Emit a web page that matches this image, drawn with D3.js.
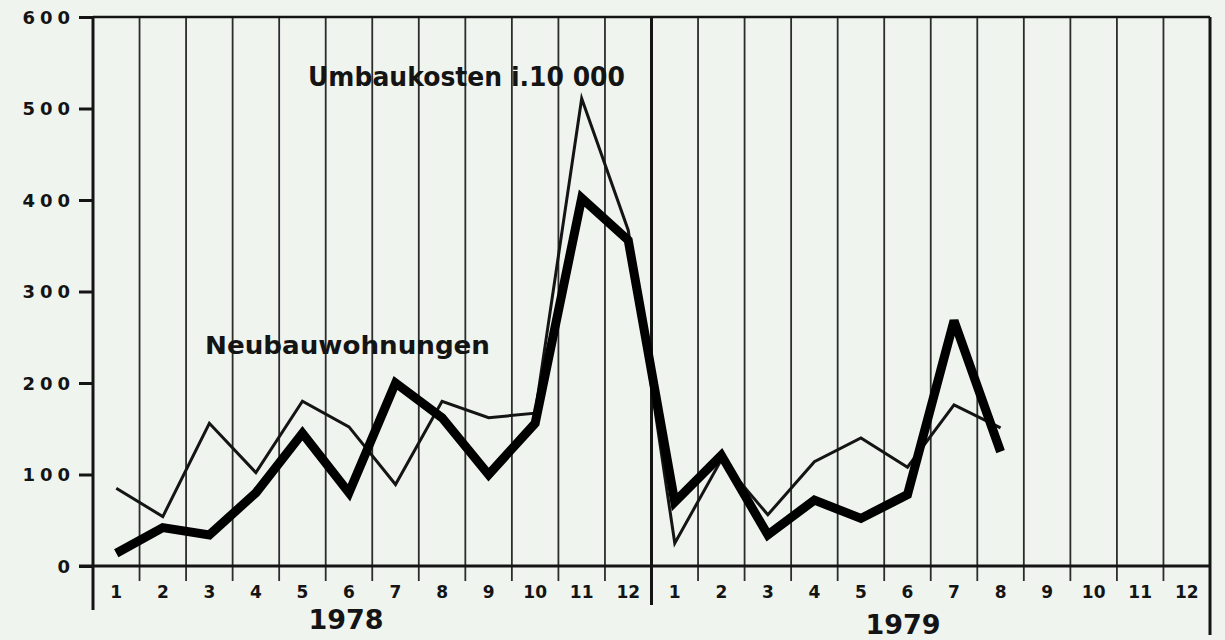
<!DOCTYPE html>
<html>
<head>
<meta charset="utf-8">
<script src="https://cdn.jsdelivr.net/npm/d3@7"></script>
<style>
  html, body { margin: 0; padding: 0; background: #eff4ef; }
  svg { display: block; }
  text { font-family: "DejaVu Sans", sans-serif; fill: #141414; }
</style>
</head>
<body>
<svg id="chart" width="1225" height="640"></svg>
<script>
// ---- data ----
const years = ["1978", "1979"];
const months = ["1","2","3","4","5","6","7","8","9","10","11","12"];
const yTicks = [0, 100, 200, 300, 400, 500, 600];
// Neubauwohnungen (thick line), Jan 1978 – Aug 1979
const neubau1978 = [14, 42, 34, 80, 145, 80, 200, 162, 100, 156, 402, 356];
const neubau1979 = [70, 121, 34, 72, 52, 78, 268, 125];
// Umbaukosten i. 10 000 (thin line), Jan 1978 – Aug 1979
const umbau1978 = [85, 54, 156, 102, 180, 152, 89, 180, 162, 167, 511, 367];
const umbau1979 = [25, 116, 56, 114, 140, 108, 176, 151];
const labelUmbau = "Umbaukosten i.10 000";
const labelNeubau = "Neubauwohnungen";

// ---- layout ----
const svg = d3.select("#chart");
const pLeft = 93, pRight = 1210, pTop = 17, pBase = 566;
const nMonths = years.length * months.length;
const x = d3.scaleLinear().domain([0, nMonths]).range([pLeft, pRight]);
const y = d3.scaleLinear().domain([0, 600]).range([pBase, pTop]);
const ink = "#141414";

// vertical month grid lines (month boundaries)
const g = svg.append("g");
d3.range(1, nMonths).forEach(i => {
  const isYear = i % 12 === 0;
  g.append("line")
    .attr("x1", x(i)).attr("x2", x(i))
    .attr("y1", pTop).attr("y2", isYear ? 605 : pBase + 15)
    .attr("stroke", isYear ? ink : "#2c2c2c")
    .attr("stroke-width", isYear ? 3 : 1.8);
});

// right border
g.append("line").attr("x1", pRight).attr("x2", pRight)
  .attr("y1", pTop).attr("y2", 635).attr("stroke", ink).attr("stroke-width", 3);
// top border
g.append("line").attr("x1", pLeft).attr("x2", pRight)
  .attr("y1", pTop).attr("y2", pTop).attr("stroke", ink).attr("stroke-width", 2.5);

// y axis
const yAxis = d3.axisLeft(y).tickValues(yTicks).tickSize(14).tickPadding(4)
  .tickFormat(d => d3.format("d")(d));
const ya = svg.append("g").attr("transform", `translate(${pLeft},0)`).call(yAxis);
ya.select(".domain").remove();
ya.selectAll(".tick line").attr("stroke", ink).attr("stroke-width", 3);
ya.selectAll(".tick text")
  .attr("font-size", 18).attr("font-weight", "bold").attr("letter-spacing", 5)
  .attr("fill", ink).attr("dy", "0.36em");
svg.append("line").attr("x1", pLeft).attr("x2", pLeft)
  .attr("y1", pTop).attr("y2", 610).attr("stroke", ink).attr("stroke-width", 3);

// x axis baseline
svg.append("line").attr("x1", pLeft - 14).attr("x2", pRight)
  .attr("y1", pBase).attr("y2", pBase).attr("stroke", ink).attr("stroke-width", 3);

// month labels
const monthLabels = [];
years.forEach((yr, yi) => months.forEach((m, mi) => monthLabels.push({ m, i: yi * 12 + mi })));
svg.append("g").selectAll("text").data(monthLabels).join("text")
  .attr("x", d => x(d.i + 0.5)).attr("y", 598)
  .attr("text-anchor", "middle").attr("font-size", 17).attr("font-weight", "bold")
  .text(d => d.m);

// year labels
svg.append("g").selectAll("text").data(years).join("text")
  .attr("x", (d, i) => i === 0 ? 346 : 903)
  .attr("y", (d, i) => i === 0 ? 629 : 634)
  .attr("text-anchor", "middle").attr("font-size", 27).attr("font-weight", "bold")
  .text(d => d);

// series
const thin = umbau1978.concat(umbau1979).map((v, i) => [i, v]);
const thick = neubau1978.concat(neubau1979).map((v, i) => [i, v]);
const line = d3.line().x(d => x(d[0] + 0.5)).y(d => y(d[1]));

svg.append("path").datum(thin).attr("d", line)
  .attr("fill", "none").attr("stroke", ink).attr("stroke-width", 3)
  .attr("stroke-linejoin", "miter").attr("stroke-miterlimit", 6);
svg.append("path").datum(thick).attr("d", line)
  .attr("fill", "none").attr("stroke", "#000").attr("stroke-width", 9)
  .attr("stroke-linejoin", "miter").attr("stroke-miterlimit", 3);

// series labels
svg.append("text").attr("x", 308).attr("y", 86)
  .attr("font-size", 26).attr("font-weight", "bold")
  .attr("textLength", 317).attr("lengthAdjust", "spacingAndGlyphs")
  .text(labelUmbau);
svg.append("text").attr("x", 205).attr("y", 354)
  .attr("font-size", 24).attr("font-weight", "bold")
  .attr("textLength", 285).attr("lengthAdjust", "spacingAndGlyphs")
  .text(labelNeubau);
</script>
</body>
</html>
